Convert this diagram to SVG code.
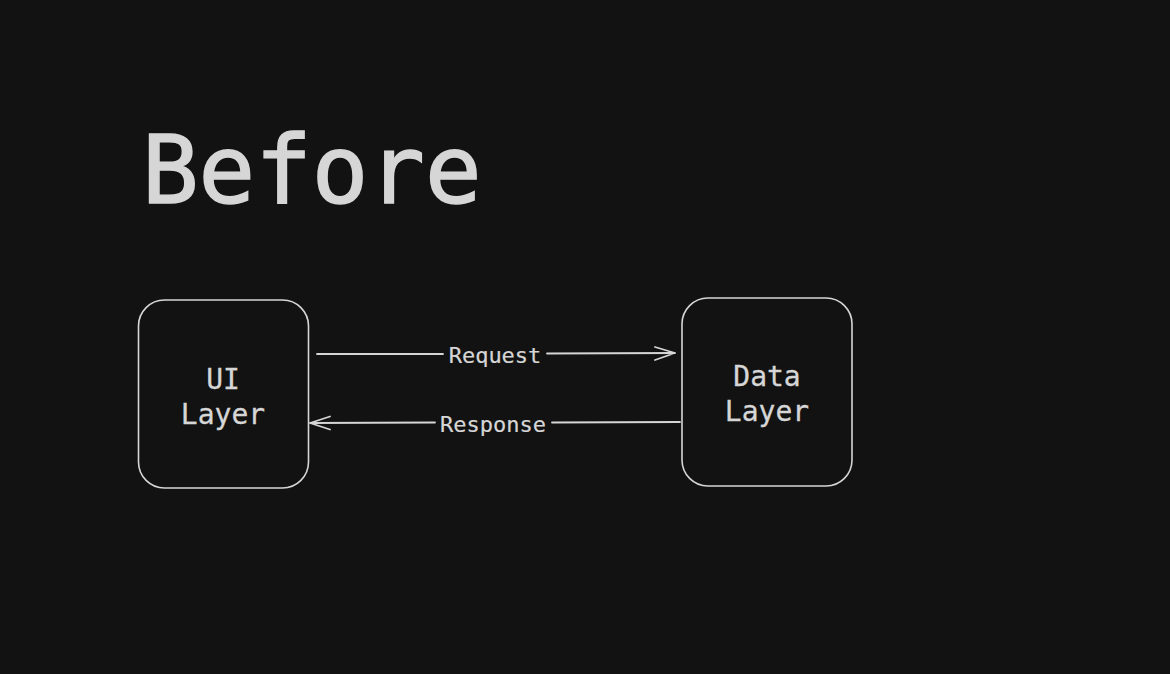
<svg xmlns="http://www.w3.org/2000/svg" width="1170" height="674" viewBox="0 0 1170 674">
<style>
.box{fill:#121212;stroke:#d6d6d6;stroke-width:1.6}
.edge{fill:none;stroke:#d6d6d6;stroke-width:1.8;stroke-linecap:round;stroke-linejoin:round}
text{font-family:"DejaVu Sans Mono","Liberation Mono",monospace;fill:#d6d6d6}
.node{font-size:28px;text-anchor:middle;stroke:#d6d6d6;stroke-width:0.3}
.lbl{font-size:22px;text-anchor:middle;stroke:#d6d6d6;stroke-width:0.2}
</style>
<rect width="1170" height="674" fill="#121212"/>
<text id="title" x="142" y="203" font-size="94" stroke="#d6d6d6" stroke-width="1.6">Before</text>
<g id="ui-layer">
<rect class="box" x="138.5" y="300" width="170" height="188" rx="26"/>
<text class="node" x="223" y="389">UI</text>
<text class="node" x="223" y="424">Layer</text>
</g>
<g id="data-layer">
<rect class="box" x="682" y="298" width="170" height="188" rx="26"/>
<text class="node" x="767" y="386">Data</text>
<text class="node" x="767" y="421">Layer</text>
</g>
<g id="connectors">
<path class="edge" d="M317 354 L443 354 M547 353.5 L675 353 M655 347 L675 353 L655 360"/>
<text class="lbl" x="495" y="363">Request</text>
<path class="edge" d="M680 422 L552 422.5 M435 422.5 L310 423 M330 416.5 L310 423 L330 429.5"/>
<text class="lbl" x="493" y="432">Response</text>
</g>
</svg>
